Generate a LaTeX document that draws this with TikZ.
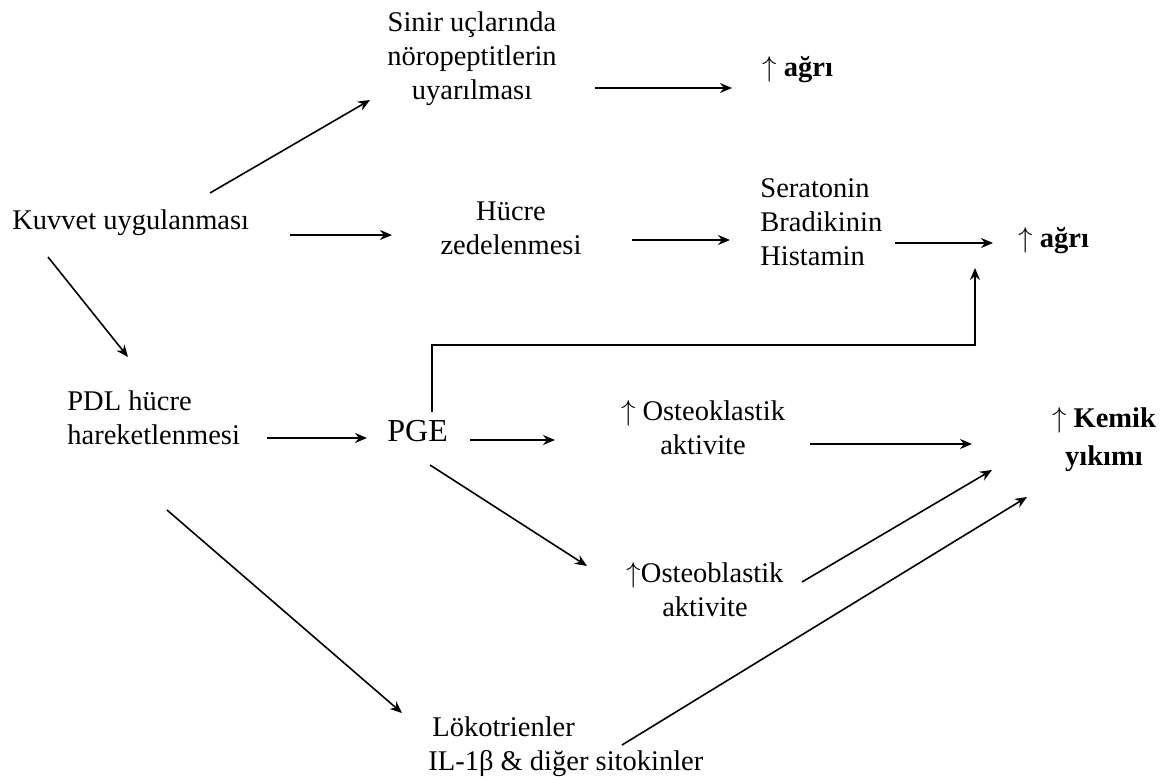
\documentclass[tikz,border=0pt]{standalone}
\usepackage{fontspec}
\setmainfont{Liberation Serif}
\usetikzlibrary{arrows.meta,calc}
\tikzset{
  lbl/.style={inner sep=0pt, font=\fontsize{14.25}{17}\selectfont},
  arr/.style={draw=black, line width=0.8pt, -{Stealth[length=6pt,width=5pt]}},
  ln/.style={draw=black, line width=0.7pt},
}
\begin{document}
\begin{tikzpicture}[x=0.5pt,y=-0.5pt]
\useasboundingbox (0,0) rectangle (1173,780);
% nodes
\node[lbl, align=center, anchor=center] (sinir) at (472,59) {Sinir uçlarında\\nöropeptitlerin\\uyarılması};
\node[lbl, anchor=base west] (agri1) at (762,77) {$\uparrow$ \textbf{ağrı}};
\node[lbl, anchor=base west] (kuvvet) at (12,230) {Kuvvet uygulanması};
\node[lbl, align=center, anchor=center] (hucre) at (511,228) {Hücre\\zedelenmesi};
\node[lbl, align=left, anchor=west] (sera) at (760,222) {Seratonin\\Bradikinin\\Histamin};
\node[lbl, anchor=base west] (agri2) at (1018,248) {$\uparrow$ \textbf{ağrı}};
\node[lbl, align=left, anchor=west] (pdl) at (67,418) {PDL hücre\\hareketlenmesi};
\node[lbl, anchor=base west, font=\fontsize{16}{18}\selectfont] (pge) at (387,442) {PGE};
\node[lbl, align=center, anchor=center] (osteok) at (703,428) {$\uparrow$ Osteoklastik\\aktivite};
\node[lbl, align=center, anchor=center, font=\fontsize{14.25}{19}\selectfont] (kemik) at (1104,440) {$\uparrow$ \textbf{Kemik}\\\textbf{yıkımı}};
\node[lbl, align=center, anchor=center] (osteob) at (705,590) {$\uparrow$Osteoblastik\\aktivite};
\node[lbl, align=left, anchor=west] (lok) at (428,747) {\hspace*{2pt}Lökotrienler\\IL-1β \& diğer sitokinler};
% connectors
\draw[arr] ($(kuvvet.base west)+(198,-37)$) -- ($(sinir.center)+(-102,41)$);
\draw[arr] ($(sinir.center)+(123,29)$) -- ($(agri1.base west)+(-30,11)$);
\draw[arr] ($(kuvvet.base west)+(278,5)$) -- ($(hucre.center)+(-119,7)$);
\draw[arr] ($(hucre.center)+(121,12)$) -- ($(sera.west)+(-30,18)$);
\draw[arr] ($(sera.west)+(135,21)$) -- ($(agri2.base west)+(-25,-5)$);
\draw[ln] ($(pge.base west)+(45,-30)$) |- ($(agri2.base west)+(-43,97)$);
\draw[arr] ($(agri2.base west)+(-43,97.7)$) -- ($(agri2.base west)+(-43,20)$);
\draw[arr] ($(kuvvet.base west)+(36,27)$) -- ($(pdl.west)+(61,-61)$);
\draw[arr] ($(pdl.west)+(200,20)$) -- ($(pge.base west)+(-20,-4)$);
\draw[arr] ($(pge.base west)+(83,-2)$) -- ($(osteok.center)+(-148,12)$);
\draw[arr] ($(osteok.center)+(107,16)$) -- ($(kemik.center)+(-132,4)$);
\draw[arr] ($(pge.base west)+(43,23)$) -- ($(osteob.center)+(-118,-24)$);
\draw[arr] ($(osteob.center)+(97,-8)$) -- ($(kemik.center)+(-112,30)$);
\draw[arr] ($(pdl.west)+(100,92)$) -- ($(lok.west)+(-26,-34)$);
\draw[arr] ($(lok.west)+(194,-2)$) -- ($(kemik.center)+(-77,57)$);
\end{tikzpicture}
\end{document}
